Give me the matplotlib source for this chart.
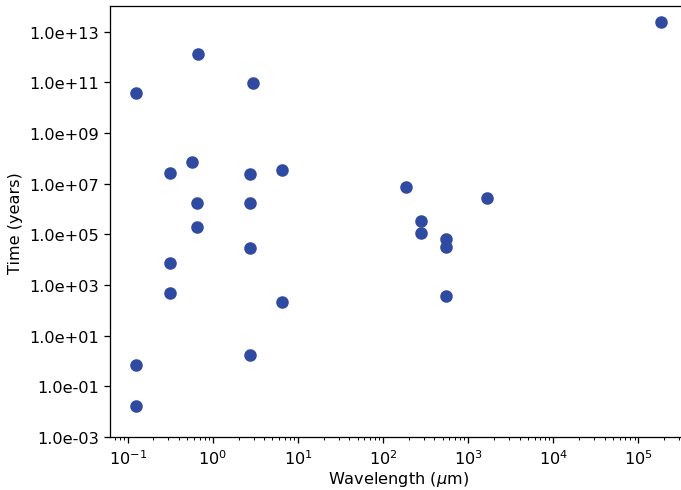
import numpy as np
import matplotlib
matplotlib.use("Agg")
import matplotlib.pyplot as plt
from matplotlib.ticker import FormatStrFormatter, NullLocator

# wavelength (micron) and time (years)
wavelength = [0.67, 2.97, 0.124, 0.57, 0.314, 2.72, 6.45, 0.647, 2.72, 0.65,
              2.72, 0.314, 0.314, 6.45, 2.72, 0.124, 0.124,
              1.83e5, 183, 1667, 275, 275, 546, 546, 546]
time_years = [1.3e12, 9.1e10, 3.7e10, 7.4e7, 2.6e7, 2.3e7, 3.4e7, 1.74e6, 1.74e6, 1.9e5,
              2.8e4, 7.2e3, 4.7e2, 2.2e2, 1.68, 0.71, 0.0166,
              2.5e13, 7.2e6, 2.6e6, 3.3e5, 1.1e5, 6.3e4, 3.2e4, 3.7e2]

ytick_vals = 10.0 ** np.arange(-3, 14, 2)

dpi = 116
fig = plt.figure(figsize=(681 / dpi, 491 / dpi), dpi=dpi)
# right edge of the axes falls just outside the canvas, as in the reference
ax = fig.add_axes([110 / 681, 53 / 491, 577 / 681, 430.7 / 491])

ax.scatter(wavelength, time_years, s=46, color="#2f4aa3", zorder=3)

ax.set_xscale("log")
ax.set_yscale("log")
ax.set_xlim(10 ** -1.21, 10 ** 5.57)
ax.set_ylim(1e-3, 1e14)
ax.set_yticks(ytick_vals)
ax.yaxis.set_major_formatter(FormatStrFormatter("%.1e"))
ax.yaxis.set_minor_locator(NullLocator())

ax.set_xlabel(r"Wavelength ($\mu$m)", labelpad=1.5)
ax.set_ylabel("Time (years)")

fig.savefig("out.png", dpi=dpi)
